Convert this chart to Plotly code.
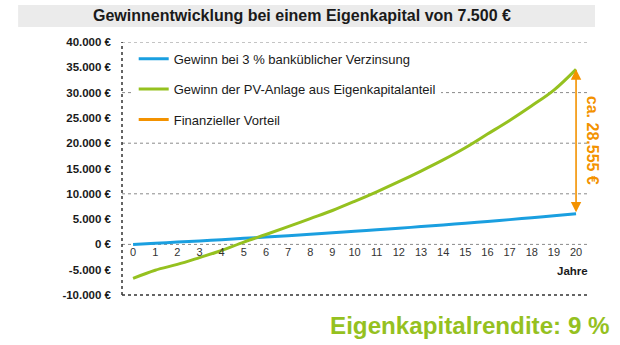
import plotly.graph_objects as go

# ---- data ----
years = list(range(0, 21))
bank_gain = [0, 225, 457, 695, 941, 1195, 1456, 1724, 2001, 2286, 2579,
             2881, 3193, 3514, 3844, 4185, 4536, 4897, 5269, 5652, 6045]
pv_gain = [-6700, -5100, -3950, -2600, -1200, 450, 1950, 3500, 5100, 6700, 8500,
           10400, 12400, 14500, 16700, 19100, 21800, 24500, 27400, 30500, 34600]
y_ticks = [-10000, -5000, 0, 5000, 10000, 15000, 20000, 25000, 30000, 35000, 40000]
y_tick_labels = ["-10.000 €", "-5.000 €", "0 €", "5.000 €", "10.000 €", "15.000 €",
                 "20.000 €", "25.000 €", "30.000 €", "35.000 €", "40.000 €"]
grid_values = [0, 10000, 20000, 30000, 40000]
series_names = ["Gewinn bei 3 % banküblicher Verzinsung",
                "Gewinn der PV-Anlage aus Eigenkapitalanteil",
                "Finanzieller Vorteil"]
advantage_label = "ca. 28.555 €"
title_text = "Gewinnentwicklung bei einem Eigenkapital von 7.500 €"
subtitle_text = "Eigenkapitalrendite: 9 %"

BLUE = "#1a9fe0"
GREEN = "#95c11f"
ORANGE = "#f39200"
FONT = "Liberation Sans, Arial, sans-serif"

fig = go.Figure()
fig.add_trace(go.Scatter(x=years, y=bank_gain, mode="lines", name=series_names[0],
                         line=dict(color=BLUE, width=3, shape="spline"),
                         legendgroup="a"))
fig.add_trace(go.Scatter(x=years, y=pv_gain, mode="lines", name=series_names[1],
                         line=dict(color=GREEN, width=3, shape="spline"),
                         legendgroup="b"))
fig.add_trace(go.Scatter(x=[None], y=[None], mode="lines", name=series_names[2],
                         line=dict(color=ORANGE, width=3), legendgroup="c"))

shapes = []
# title bar
shapes.append(dict(type="rect", xref="paper", yref="paper", x0=-0.222, x1=1.0107,
                   y0=1.059, y1=1.146, fillcolor="#ebebeb", line=dict(width=0),
                   layer="below"))
for gv in grid_values:
    shapes.append(dict(type="line", xref="paper", yref="y", x0=0, x1=1, y0=gv, y1=gv,
                       line=dict(color="#8a8a8a", width=1, dash="dot"), layer="below"))
# left axis and bottom axis
shapes.append(dict(type="line", xref="paper", yref="paper", x0=0, x1=0, y0=0, y1=1,
                   line=dict(color="#333333", width=1.5, dash="dot")))
shapes.append(dict(type="line", xref="paper", yref="paper", x0=0, x1=1, y0=0, y1=0,
                   line=dict(color="#333333", width=1.5, dash="dot")))

annotations = [
    dict(xref="paper", yref="paper", x=0.385, y=1.103, text=title_text, showarrow=False,
         xanchor="center", yanchor="middle",
         font=dict(family=FONT, size=16, color="#1a1a1a", weight="bold")),
    dict(xref="paper", yref="paper", x=1.0, y=0.095, text="Jahre", showarrow=False,
         xanchor="right", yanchor="middle",
         font=dict(family=FONT, size=11.5, color="#1a1a1a", weight="bold")),
    dict(xref="paper", yref="paper", x=1.047, y=-0.119, text=subtitle_text, showarrow=False,
         xanchor="right", yanchor="middle",
         font=dict(family=FONT, size=24.2, color=GREEN, weight="bold")),
    dict(x=years[-1], y=pv_gain[-1], ax=years[-1], ay=bank_gain[-1], xref="x", yref="y",
         axref="x", ayref="y", text="", showarrow=True, arrowhead=2, arrowside="end+start",
         arrowsize=1.3, arrowwidth=1.6, arrowcolor=ORANGE, standoff=0, startstandoff=0),
    dict(xref="paper", yref="paper", x=1.004, y=0.61, text=advantage_label, showarrow=False,
         textangle=90, xanchor="center", yanchor="middle",
         font=dict(family=FONT, size=16, color=ORANGE, weight="bold")),
]

fig.update_layout(
    width=620, height=345,
    margin=dict(l=122, r=30, t=42, b=50),
    paper_bgcolor="white", plot_bgcolor="white",
    font=dict(family=FONT, color="#1a1a1a"),
    showlegend=True,
    legend=dict(x=0.025, y=0.993, xanchor="left", yanchor="top", bgcolor="white",
                font=dict(family=FONT, size=13, color="#1a1a1a"),
                tracegroupgap=10.5, borderwidth=0),
    shapes=shapes,
    annotations=annotations,
    xaxis=dict(range=[-0.5, 20.63], tickvals=years, ticktext=[str(y) for y in years],
               showgrid=False, zeroline=False, showline=False, ticks="",
               anchor="free", position=0.2,
               tickfont=dict(family=FONT, size=11, color="#333333")),
    yaxis=dict(range=[-10000, 40000], tickvals=y_ticks, ticktext=y_tick_labels,
               showgrid=False, zeroline=False, showline=False, ticks="",
               ticklabelstandoff=10,
               tickfont=dict(family=FONT, size=11.5, color="#1a1a1a", weight="bold")),
)

fig.write_html("out.html")
